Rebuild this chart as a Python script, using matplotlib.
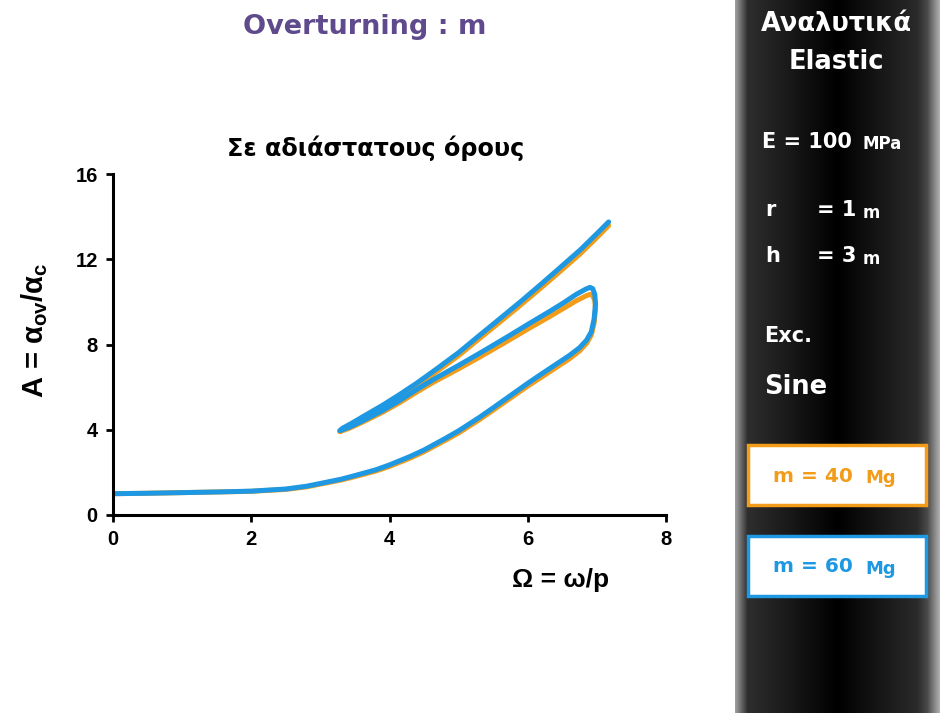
import numpy as np
import matplotlib
matplotlib.use("Agg")
import matplotlib.pyplot as plt
from matplotlib.patches import Rectangle
from matplotlib.colors import LinearSegmentedColormap

plt.rcParams['font.family'] = ['Liberation Sans', 'DejaVu Sans']
plt.rcParams['mathtext.fontset'] = 'custom'
plt.rcParams['mathtext.rm'] = 'Liberation Sans:bold'
plt.rcParams['mathtext.it'] = 'Liberation Sans:bold'
plt.rcParams['mathtext.bf'] = 'Liberation Sans:bold'

# Ω = ω/p  vs  A = α_ov/α_c  (sweep up, jump, sweep back, upper branch)
omega = [0, 0.5, 1.0, 1.5, 2.0, 2.5, 2.8, 3.0, 3.3, 3.5, 3.8, 4.0, 4.3, 4.5,
         4.8, 5.0, 5.3, 5.5, 5.8, 6.0, 6.2, 6.4, 6.6, 6.75, 6.85, 6.92, 6.96,
         6.98, 6.97, 6.94, 6.9, 6.84, 6.7, 6.52, 6.3, 6.03, 5.7, 5.31, 5.0,
         4.63, 4.4, 4.15, 3.9, 3.6, 3.42, 3.3, 3.28, 3.32, 3.45, 3.65, 3.9,
         4.15, 4.4, 4.7, 5.0, 5.31, 5.6, 5.9, 6.2, 6.5, 6.76, 7.0, 7.17]
A_m40 = [1.0, 1.02, 1.05, 1.08, 1.11, 1.2, 1.32, 1.45, 1.64, 1.8, 2.06, 2.28,
         2.67, 2.97, 3.49, 3.85, 4.47, 4.92, 5.6, 6.05, 6.47, 6.9, 7.32, 7.7,
         8.05, 8.45, 9.0, 9.65, 10.05, 10.3, 10.35, 10.28, 10.05, 9.7, 9.28,
         8.78, 8.15, 7.42, 6.86, 6.22, 5.78, 5.28, 4.82, 4.34, 4.07, 3.93,
         3.91, 4.02, 4.24, 4.6, 5.06, 5.56, 6.08, 6.77, 7.48, 8.3, 9.06, 9.86,
         10.68, 11.52, 12.26, 13.02, 13.58]
A_m60 = [1.0, 1.02, 1.05, 1.08, 1.12, 1.22, 1.35, 1.48, 1.68, 1.85, 2.12, 2.35,
         2.75, 3.05, 3.58, 3.95, 4.58, 5.03, 5.72, 6.18, 6.62, 7.05, 7.48, 7.85,
         8.2, 8.6, 9.2, 9.9, 10.35, 10.62, 10.68, 10.6, 10.35, 9.96, 9.52,
         9.0, 8.35, 7.6, 7.02, 6.35, 5.9, 5.38, 4.9, 4.4, 4.12, 3.98, 3.96,
         4.07, 4.3, 4.68, 5.15, 5.66, 6.2, 6.9, 7.62, 8.45, 9.22, 10.02, 10.85,
         11.7, 12.44, 13.2, 13.75]

x_ticks = [0, 2, 4, 6, 8]
y_ticks = [0, 4, 8, 12, 16]

ORANGE = '#F39C1A'
BLUE = '#1E98E2'
W, H = 953, 713

fig = plt.figure(figsize=(W / 100, H / 100), dpi=100)

# overlay in pixel coordinates for the slide decoration
bg = fig.add_axes([0, 0, 1, 1], zorder=0)
bg.set_xlim(0, W)
bg.set_ylim(H, 0)
bg.axis('off')

# dark cylinder-like side bar
shade = LinearSegmentedColormap.from_list('bar', [
    (0.0, '#a0a0a0'), (0.025, '#707070'), (0.06, '#2e2e2e'), (0.5, '#000000'),
    (0.89, '#2a2a2a'), (0.94, '#4a4a4a'), (1.0, '#b0b0b0')])
bg.imshow(np.linspace(0, 1, 256)[None, :], cmap=shade, aspect='auto',
          extent=(735, 940, H, 0), zorder=1)

bg.text(365, 27, 'Overturning : m', color='#5E4A8C', fontsize=19.5,
        fontweight='bold', family='DejaVu Sans', ha='center', va='center')
bg.text(376, 148, 'Σε αδιάστατους όρους', color='black', fontsize=17.2,
        fontweight='bold', family='DejaVu Sans', ha='center', va='center')

side = dict(color='white', fontweight='bold', family='DejaVu Sans', va='center')
bg.text(836, 24, 'Αναλυτικά', fontsize=18.5, ha='center', **side)
bg.text(836, 62, 'Elastic', fontsize=18.5, ha='center', **side)
bg.text(762, 142, 'E = 100', fontsize=15, ha='left', **side)
bg.text(863, 144, 'MPa', fontsize=12, ha='left', **side)
bg.text(765, 210, 'r', fontsize=15, ha='left', **side)
bg.text(817, 210, '= 1', fontsize=15, ha='left', **side)
bg.text(863, 213, 'm', fontsize=12, ha='left', **side)
bg.text(765, 256, 'h', fontsize=15, ha='left', **side)
bg.text(817, 256, '= 3', fontsize=15, ha='left', **side)
bg.text(863, 259, 'm', fontsize=12, ha='left', **side)
bg.text(764, 336, 'Exc.', fontsize=15, ha='left', **side)
bg.text(764, 387, 'Sine', fontsize=18.5, ha='left', **side)

for top, col, label in [(445, ORANGE, '40'), (536, BLUE, '60')]:
    bg.add_patch(Rectangle((748, top), 178, 60, facecolor='white',
                           edgecolor=col, linewidth=2.5, zorder=2))
    bg.text(773, top + 31, 'm = ' + label, fontsize=14.5, color=col,
            fontweight='bold', family='DejaVu Sans', ha='left', va='center',
            zorder=3)
    bg.text(865, top + 33, 'Mg', fontsize=13, color=col,
            fontweight='bold', family='DejaVu Sans', ha='left', va='center',
            zorder=3)

# y and x labels
bg.text(35, 330, r'A = $α_{ov}/α_{c}$', rotation=90, fontsize=21,
        fontweight='bold', ha='center', va='center')
bg.text(561, 580, 'Ω = ω/p', fontsize=19, fontweight='bold',
        ha='center', va='center')

# chart
ax = fig.add_axes([113 / W, 1 - 515 / H, (666 - 113) / W, (515 - 174) / H],
                  zorder=2)
ax.plot(omega, A_m40, color=ORANGE, lw=3.6, solid_joinstyle='round',
        solid_capstyle='round')
ax.plot(omega, A_m60, color=BLUE, lw=3.6, solid_joinstyle='round',
        solid_capstyle='round')
ax.set_xlim(0, 8)
ax.set_ylim(0, 16)
ax.set_xticks(x_ticks)
ax.set_yticks(y_ticks)
for s in ['top', 'right']:
    ax.spines[s].set_visible(False)
for s in ['left', 'bottom']:
    ax.spines[s].set_linewidth(2.2)
ax.tick_params(direction='out', length=5, width=2, labelsize=14.5, pad=6)
for lab in ax.get_xticklabels() + ax.get_yticklabels():
    lab.set_fontweight('bold')

fig.savefig('out.png', dpi=100)
